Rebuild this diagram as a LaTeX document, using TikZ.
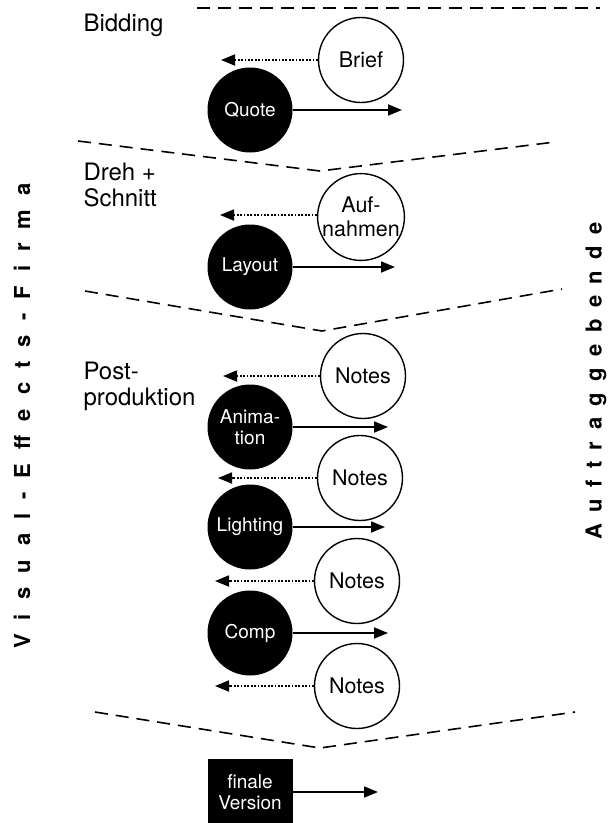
\documentclass[tikz,border=0pt]{standalone}
\usepackage{fontspec}
\setmainfont{TeX Gyre Heros}
\usetikzlibrary{arrows.meta}
\begin{document}
\begin{tikzpicture}[x=1pt,y=-1pt,
    auftrag/.style={circle,draw,line width=1.4pt,minimum size=85pt,inner sep=0pt,align=center,font=\fontsize{21.5}{23.5}\selectfont},
    vfx/.style={circle,fill=black,text=white,minimum size=85pt,inner sep=0pt,align=center,font=\fontsize{19}{21.5}\selectfont},
    send/.style={line width=1.8pt,-{Triangle[length=14pt,width=11pt]}},
    back/.style={line width=1.8pt,dash pattern=on 1.8pt off 1.6pt,-{Triangle[length=14pt,width=11pt]}},
    phase/.style={line width=1.6pt,dash pattern=on 13pt off 8pt},
    stage/.style={anchor=west,align=left,font=\fontsize{24}{26}\selectfont},
    side/.style={rotate=90,font=\fontsize{22}{22}\selectfont\bfseries}]
    \useasboundingbox (0,0) rectangle (613,823);
    % Seiten
    \node[side] (firma) at (22,416) {\addfontfeature{LetterSpace=64}Visual-Effects-Firma};
    \node[side] (kunde) at (596,381) {\addfontfeature{LetterSpace=52}Auftraggebende};
    % Phasen
    \coordinate (t1) at (197,8); \coordinate (t2) at (600,8);
    \draw[phase] (t1) -- (t2);
    \coordinate (a1) at (78,141); \coordinate (a2) at (320,171); \coordinate (a3) at (555,142);
    \draw[phase] (a1) -- (a2) -- (a3);
    \coordinate (b1) at (85,291); \coordinate (b2) at (322,331); \coordinate (b3) at (562,289);
    \draw[phase] (b1) -- (b2) -- (b3);
    \coordinate (c1) at (95,712); \coordinate (c2) at (320,748); \coordinate (c3) at (575,712);
    \draw[phase] (c1) -- (c2) -- (c3);
    \node[stage] (bidding) at (80,25) {Bidding};
    \node[stage] (dreh) at (80,185) {Dreh +\\Schnitt};
    \node[stage] (post) at (80,386) {Post-\\produktion};
    % Bidding
    \node[auftrag] (brief) at (361,60) {Brief};
    \node[vfx] (quote) at (250,110) {Quote};
    \coordinate (brief-end) at (221,60);
    \coordinate (quote-end) at (402,110);
    \draw[back] (brief) -- (brief-end);
    \draw[send] (quote) -- (quote-end);
    % Dreh + Schnitt
    \node[auftrag] (aufnahmen) at (361,217) {Auf-\\nahmen};
    \node[vfx] (layout) at (250,267) {Layout};
    \coordinate (aufnahmen-end) at (220,215);
    \coordinate (layout-end) at (395,267);
    \draw[back] (aufnahmen.west |- aufnahmen-end) -- (aufnahmen-end);
    \draw[send] (layout) -- (layout-end);
    % Postproduktion
    \foreach \n/\x/\y/\e in {n1/363/376/223, n2/360/478/218, n3/357/581/215, n4/357/686/215}{
        \node[auftrag] (\n) at (\x,\y) {Notes};
        \coordinate (\n-end) at (\e,\y);
        \draw[back] (\n) -- (\n-end);
    }
    \foreach \n/\y/\e/\t in {anim/427/388/{Anima-\\tion}, light/527/385/Lighting, comp/633/388/Comp}{
        \node[vfx] (\n) at (250,\y) {\t};
        \coordinate (\n-end) at (\e,\y);
        \draw[send] (\n) -- (\n-end);
    }
    % finale Version
    \node[vfx,rectangle,minimum width=85pt,minimum height=66pt] (final) at (250,792) {finale\\Version};
    \coordinate (final-end) at (378,792);
    \draw[send] (final) -- (final-end);
\end{tikzpicture}
\end{document}
